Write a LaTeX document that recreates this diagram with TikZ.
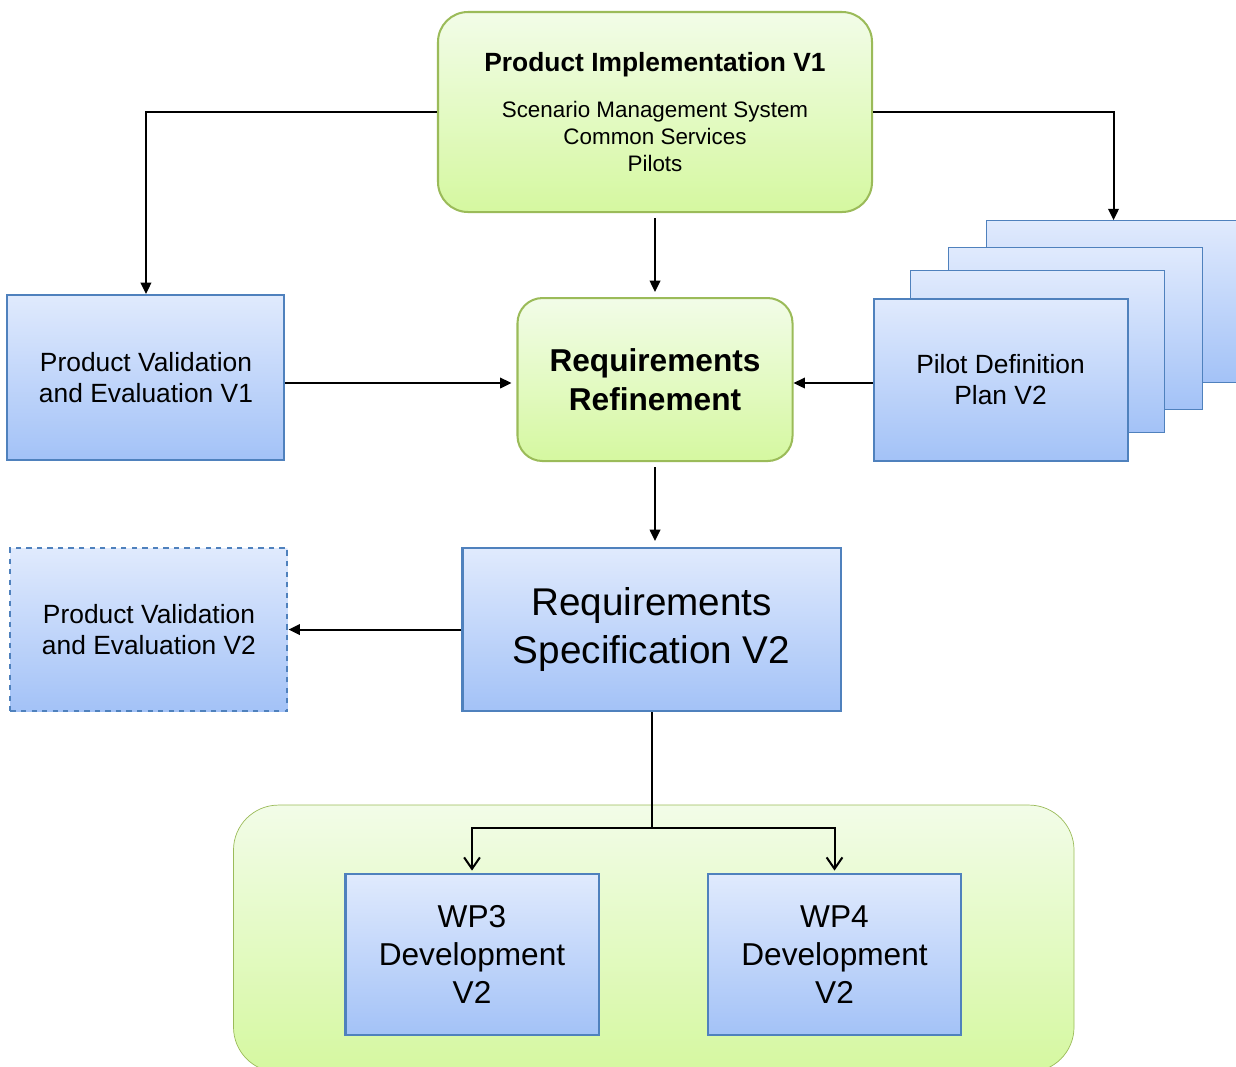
\documentclass[tikz,border=0pt]{standalone}
\usepackage{fontspec}
\setmainfont{Liberation Sans}
\usetikzlibrary{positioning,arrows.meta,backgrounds}
\definecolor{bluetop}{HTML}{E0EAFD}
\definecolor{bluebot}{HTML}{A3C2F7}
\definecolor{blueline}{HTML}{4F81BD}
\definecolor{greentop}{HTML}{F2FCE8}
\definecolor{greenbot}{HTML}{D5F8A0}
\definecolor{greenline}{HTML}{9BBB59}
\begin{document}
\begin{tikzpicture}[line width=1.15pt,
    bluebox/.style = {draw=blueline, top color=bluetop, bottom color=bluebot, align=center, inner sep=2pt},
    greenbox/.style = {draw=greenline, top color=greentop, bottom color=greenbot, align=center, inner sep=2pt},
    midtext/.style = {font=\fontsize{15}{18}\selectfont},
    card/.style = {bluebox, midtext, minimum width=5.08cm, minimum height=3.24cm},
    wpbox/.style = {bluebox, font=\fontsize{18}{21.5}\selectfont, minimum width=5.06cm, minimum height=3.22cm},
    arr/.style = {-{Triangle[length=6.5pt,width=6pt]}},
    openarr/.style = {-{Straight Barb[length=6.5pt,width=9pt]}}]
  \useasboundingbox (0,0) rectangle (24.72,-21.32);
  % Define nodes
  \node[greenbox, rounded corners=0.6cm, minimum width=8.68cm, minimum height=4cm,
        font=\fontsize{12.75}{15.3}\selectfont] (impl) at (13.10,-2.24)
        {{\fontsize{15}{18}\selectfont\bfseries Product Implementation V1}\\[11pt]
         Scenario Management System\\ Common Services\\ Pilots};
  \node[greenbox, rounded corners=0.5cm, minimum width=5.5cm, minimum height=3.26cm,
        font=\fontsize{18}{22}\selectfont\bfseries] (refine) [below=1.68cm of impl]
        {Requirements\\ Refinement};
  \node[bluebox, midtext, minimum width=5.54cm, minimum height=3.3cm] (pve1) [left=4.62cm of refine, yshift=0.04cm]
        {Product Validation\\ and Evaluation V1};
  \node[card] (pilot) [right=1.58cm of refine] {Pilot Definition\\ Plan V2};
  \begin{scope}[on background layer]
    \node[card] (card4) at ([shift={(2.26,1.56)}]pilot.center) {};
    \node[card] (card3) at ([shift={(1.50,1.02)}]pilot.center) {};
    \node[card] (card2) at ([shift={(0.74,0.56)}]pilot.center) {};
  \end{scope}
  \node[bluebox, font=\fontsize{22}{27}\selectfont, minimum width=7.56cm, minimum height=3.26cm]
        (reqspec) [below=1.7cm of refine, xshift=-0.07cm] {Requirements\\ Specification V2};
  \node[bluebox, midtext, dashed, minimum width=5.54cm, minimum height=3.26cm] (pve2)
        [left=3.46cm of reqspec] {Product Validation\\ and Evaluation V2};
  \node[wpbox] (wp3) [below=3.22cm of reqspec, xshift=-3.59cm] {WP3\\ Development\\ V2};
  \node[wpbox] (wp4) [below=3.22cm of reqspec, xshift=3.66cm] {WP4\\ Development\\ V2};
  \begin{scope}[on background layer]
    \draw[greenbox, rounded corners=0.9cm] ([shift={(-2.22,1.36)}]wp3.north west)
          rectangle ([shift={(2.24,-0.72)}]wp4.south east);
  \end{scope}
  \coordinate (split) at ([yshift=-2.32cm]reqspec.south);
  % Add edges
  \draw[arr] (impl.west) -| (pve1.north);
  \draw[arr] (impl.east) -| (card4.north);
  \draw[arr, shorten <=0.1cm, shorten >=0.1cm] (impl) -- (refine);
  \draw[arr, shorten >=0.1cm] (pve1.east |- 0,-7.66) -- (refine.west |- 0,-7.66);
  \draw[arr] (pilot.west |- 0,-7.66) -- (refine.east |- 0,-7.66);
  \draw[arr, shorten <=0.1cm, shorten >=0.12cm] (refine.south) -- (refine.south |- reqspec.north);
  \draw[arr] (reqspec) -- (pve2);
  \draw (reqspec.south) -- (split);
  \draw[openarr, shorten >=0.05cm] (split) -| (wp3.north);
  \draw[openarr, shorten >=0.05cm] (split) -| (wp4.north);
\end{tikzpicture}
\end{document}
